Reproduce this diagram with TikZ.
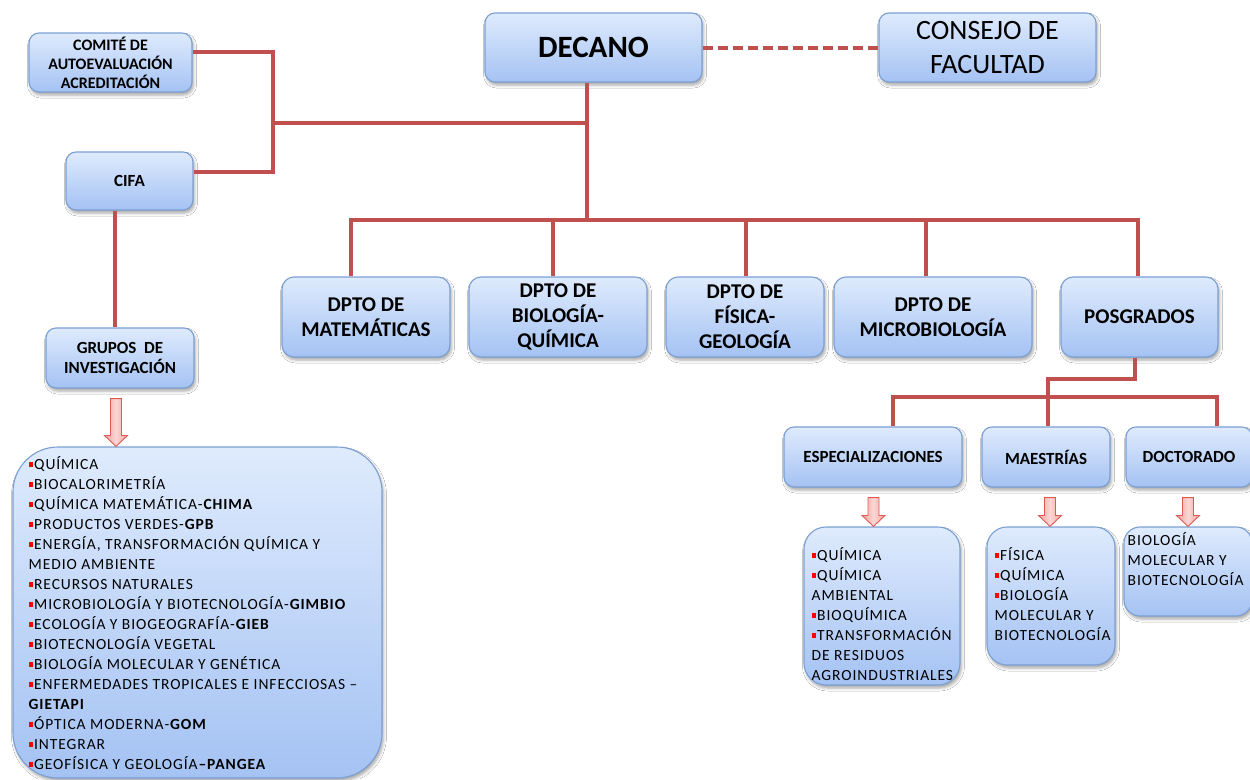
\documentclass[tikz,border=0pt]{standalone}
\usepackage{fontspec}
\setmainfont{Carlito}
\newfontfamily\listfont[LetterSpace=6]{Carlito}
\usetikzlibrary{shadows.blur,calc}
\definecolor{boxtop}{HTML}{DFEBFD}
\definecolor{boxbot}{HTML}{A4C2F3}
\definecolor{boxline}{HTML}{7A9FD3}
\definecolor{linered}{HTML}{C0504D}
\definecolor{bulred}{HTML}{FF0000}
\definecolor{arrfill}{HTML}{F4A5A0}
\definecolor{arrlight}{HTML}{FBD6D3}
\definecolor{arrline}{HTML}{DE5A55}
\newcommand\bul{\textcolor{bulred}{\rule[2.5pt]{4pt}{5pt}}\hspace{1.5pt}}
\newcommand\blockarrow[3]{%
  \path[blockarr] let \p1=([xshift=#3]#1.south), \p2=(#2.north) in
    (\x1-5.5pt,\y1-10pt) -- (\x1+5.5pt,\y1-10pt) -- (\x1+5.5pt,\y2+11pt) --
    (\x1+11.5pt,\y2+11pt) -- (\x1,\y2) -- (\x1-11.5pt,\y2+11pt) --
    (\x1-5.5pt,\y2+11pt) -- cycle;}
\begin{document}
\begin{tikzpicture}[x=1pt,y=-1pt,
  box/.style={draw=boxline, line width=1.1pt, rounded corners=10pt,
    top color=boxtop, bottom color=boxbot,
    blur shadow={shadow xshift=1.5pt, shadow yshift=-3pt, shadow blur radius=3pt, shadow opacity=35},
    inner sep=0pt, align=center, font=\bfseries\fontsize{17}{20}\selectfont},
  dept/.style={box, rounded corners=12pt, minimum height=80pt,
    font=\bfseries\fontsize{21}{25}\selectfont},
  listbox/.style={box},
  listtext/.style={inner sep=0pt, align=left, anchor=north west,
    font=\listfont\fontsize{15.5}{20}\selectfont},
  conn/.style={draw=linered, line width=4pt},
  dashconn/.style={conn, dash pattern=on 10pt off 5pt},
  blockarr/.style={draw=arrline, line width=0.9pt, left color=arrfill,
    right color=arrfill, middle color=arrlight}]
\useasboundingbox[fill=white] (0,0) rectangle (1250,779);

% top nodes
\node[box, minimum width=163pt, minimum height=59pt,
  font=\bfseries\fontsize{16}{19}\selectfont] (com) at (110.5,62.5)
  {COMITÉ DE\\AUTOEVALUACIÓN\\ACREDITACIÓN};
\node[box, minimum width=127pt, minimum height=58pt] (cifa) at (129.5,181) {CIFA};
\node[box, minimum width=148pt, minimum height=60pt] (grp) at (120,358)
  {GRUPOS\ \ DE\\INVESTIGACIÓN};
\node[box, minimum width=217pt, minimum height=69pt,
  font=\bfseries\fontsize{31}{36}\selectfont] (dec) at (593.5,47.5) {DECANO};
\node[box, minimum width=217pt, minimum height=69pt,
  font=\fontsize{28}{34}\selectfont] (cons) at (987.5,47.5) {CONSEJO DE\\FACULTAD};

% departments
\node[dept, minimum width=168pt] (mat) at (366,317) {DPTO DE\\MATEMÁTICAS};
\node[dept, minimum width=178pt] (bio) at (558,317) {DPTO DE\\BIOLOGÍA-\\QUÍMICA};
\node[dept, minimum width=158pt] (fis) at (745,317) {DPTO DE\\FÍSICA-\\GEOLOGÍA};
\node[dept, minimum width=198pt] (mic) at (933,317) {DPTO DE\\MICROBIOLOGÍA};
\node[dept, minimum width=157pt] (pos) at (1139.5,317) {POSGRADOS};

% posgrados children
\node[box, minimum width=178pt, minimum height=60pt] (esp) at (873,457) {ESPECIALIZACIONES};
\node[box, minimum width=128pt, minimum height=60pt] (mae) at (1046,457) {MAESTRÍAS};
\node[box, minimum width=126pt, minimum height=60pt] (doc) at (1189,457) {DOCTORADO};

% list boxes
\node[listbox, rounded corners=45pt, minimum width=369pt, minimum height=331pt] (biglist) at (197.5,612.5) {};
\node[listbox, rounded corners=22pt, minimum width=156pt, minimum height=158pt] (esplist) at (882,606) {};
\node[listbox, rounded corners=20pt, minimum width=128pt, minimum height=138pt] (maelist) at (1051,596) {};
\node[listbox, rounded corners=16pt, minimum width=128pt, minimum height=89pt] (doclist) at (1188,571.5) {};

\node[listtext] (bigtext) at ([shift={(16,10)}]biglist.north west) {%
\bul QUÍMICA\\
\bul BIOCALORIMETRÍA\\
\bul QUÍMICA MATEMÁTICA-\textbf{CHIMA}\\
\bul PRODUCTOS VERDES-\textbf{GPB}\\
\bul ENERGÍA, TRANSFORMACIÓN QUÍMICA Y\\
MEDIO AMBIENTE\\
\bul RECURSOS NATURALES\\
\bul MICROBIOLOGÍA Y BIOTECNOLOGÍA-\textbf{GIMBIO}\\
\bul ECOLOGÍA Y BIOGEOGRAFÍA-\textbf{GIEB}\\
\bul BIOTECNOLOGÍA VEGETAL\\
\bul BIOLOGÍA MOLECULAR Y GENÉTICA\\
\bul ENFERMEDADES TROPICALES E INFECCIOSAS –\\
\textbf{GIETAPI}\\
\bul ÓPTICA MODERNA-\textbf{GOM}\\
\bul INTEGRAR\\
\bul GEOFÍSICA Y GEOLOGÍA\textbf{–PANGEA}};

\node[listtext] (esptext) at ([shift={(8,21)}]esplist.north west) {%
\bul QUÍMICA\\
\bul QUÍMICA\\
AMBIENTAL\\
\bul BIOQUÍMICA\\
\bul TRANSFORMACIÓN\\
DE RESIDUOS\\
AGROINDUSTRIALES};

\node[listtext] (maetext) at ([shift={(8,21)}]maelist.north west) {%
\bul FÍSICA\\
\bul QUÍMICA\\
\bul BIOLOGÍA\\
MOLECULAR Y\\
BIOTECNOLOGÍA};

\node[listtext] (doctext) at ([shift={(4,6)}]doclist.north west) {%
BIOLOGÍA\\
MOLECULAR Y\\
BIOTECNOLOGÍA};

% connectors
\coordinate (jl) at (273,123);
\coordinate (jd) at (587,123);
\coordinate (jb) at (587,220);
\draw[conn] (com.east |- 0,52) -| (jl) |- (cifa.east |- 0,172);
\draw[conn] (jl) -- (jd);
\draw[conn] (dec.south -| jd) -- (jb);
\draw[dashconn] (dec.east) -- (cons.west);
\draw[conn] ([xshift=-14.5pt]cifa.south) -- ([xshift=-14.5pt]cifa.south |- grp.north);
\draw[conn] ([xshift=-15pt]mat.north) |- ([xshift=-1.5pt]pos.north |- jb) -- ([xshift=-1.5pt]pos.north);
\draw[conn] ([xshift=-5pt]bio.north) -- ([xshift=-5pt]bio.north |- jb);
\draw[conn] ([xshift=1pt]fis.north) -- ([xshift=1pt]fis.north |- jb);
\draw[conn] ([xshift=-7pt]mic.north) -- ([xshift=-7pt]mic.north |- jb);
\draw[conn] ([xshift=-4.5pt]pos.south) -- ++(0,21) -| ([xshift=2pt]mae.north);
\draw[conn] ([xshift=20pt]esp.north) -- ++(0,-29) -| ([xshift=28pt]doc.north);

% block arrows
\blockarrow{grp}{biglist}{-4pt}
\blockarrow{esp}{esplist}{0.5pt}
\blockarrow{mae}{maelist}{4pt}
\blockarrow{doc}{doclist}{-1pt}
\end{tikzpicture}
\end{document}
